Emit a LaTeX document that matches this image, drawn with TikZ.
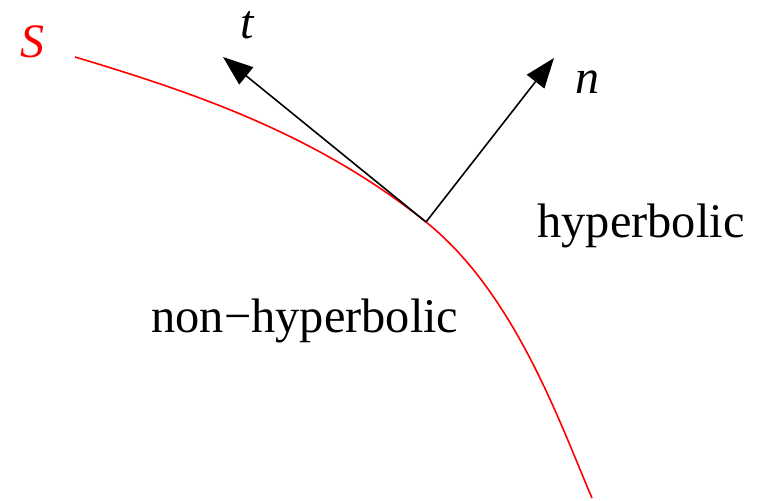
\documentclass[tikz,border=0pt]{standalone}
\usepackage{fontspec}
\setmainfont{Liberation Serif}
\usetikzlibrary{arrows.meta}
\begin{document}
\begin{tikzpicture}[x=0.5pt,y=-0.5pt,
  vec/.style={draw=black,line width=0.8pt,-{Triangle[length=15pt,width=11pt]}},
  curve/.style={draw=red,line width=0.8pt},
  lbl/.style={font=\fontsize{24.2}{28}\selectfont,inner sep=0pt},
  mlbl/.style={font=\fontsize{24}{28}\selectfont\itshape,inner sep=0pt}]
\useasboundingbox (0,0) rectangle (766,501);
\coordinate (p) at (426,222);
\coordinate (c0) at (75,57);
\coordinate (c9) at (592,498);
\coordinate (tt) at (223,57);
\coordinate (nt) at (554,58);
\draw[curve] (c0) .. controls (195,93) and (316,134) .. (p)
  .. controls (516,294) and (562,429) .. (c9);
\draw[vec] (p) -- (tt);
\draw[vec] (p) -- (nt);
\node[mlbl,text=red] (S) at (32,42) {S};
\node[mlbl] (t) at (247,25) {t};
\node[mlbl] (n) at (587,82) {n};
\node[lbl] (hyp) at (641,226) {hyperbolic};
\node[lbl] (nonhyp) at (305,321) {non−hyperbolic};
\end{tikzpicture}
\end{document}
